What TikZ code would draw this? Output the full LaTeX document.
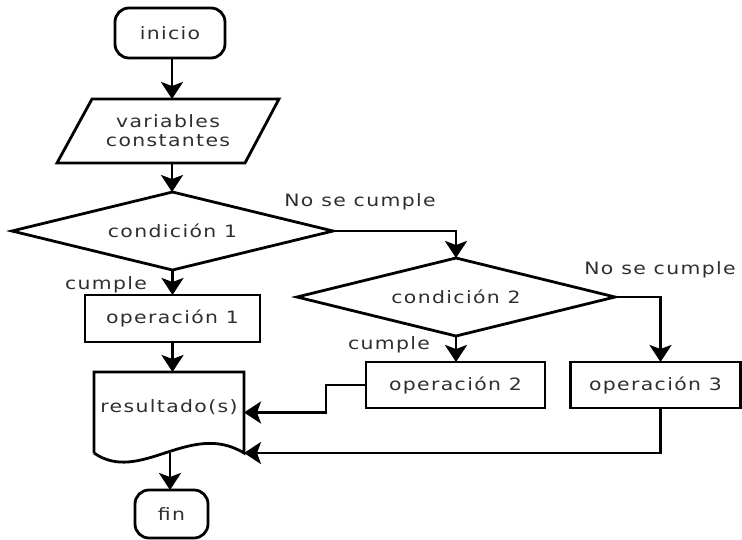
\documentclass[tikz,border=0pt]{standalone}
\usepackage{fontspec}
\setmainfont{DejaVu Sans}[FakeStretch=1.2, LetterSpace=8]
\usetikzlibrary{arrows.meta,calc}
\definecolor{txt}{HTML}{2E2E2E}
\begin{document}
\begin{tikzpicture}[x=1pt,y=-1pt,
  every node/.style={font=\fontsize{17}{19}\selectfont, text=txt},
  frame/.style={inner sep=0pt, outer sep=0pt},
  outline/.style={draw=black, line width=2.8pt},
  terminal/.style={frame, outline, rectangle, rounded corners=14pt},
  procbox/.style={frame, outline, rectangle, minimum height=46pt},
  decision/.style={frame, rectangle, minimum height=78pt},
  flow/.style={draw=black, line width=2.8pt,
    -{Stealth[length=17pt, width=22pt, inset=4pt]}},
  tag/.style={inner sep=0pt}
]
\useasboundingbox (0,0) rectangle (742,539);

% start / end terminals
\node[terminal, minimum width=110pt, minimum height=50pt] (start) at (170,33) {inicio};
\node[terminal, minimum width=73pt, minimum height=48pt] (stop) at (171.5,514) {fin};

% input parallelogram
\node[frame, minimum width=222pt, minimum height=64pt, align=center] (vars) at (168,131)
  {variables\\constantes};
\draw[outline, line join=miter] ($(vars.north west)+(35,0)$) -- (vars.north east)
  -- ($(vars.south east)+(-34,0)$) -- (vars.south west) -- cycle;

% decisions: the diamond outline joins the four side midpoints of the node box
\node[decision, minimum width=321pt] (d1) at (172.5,231) {condición 1};
\node[decision, minimum width=318pt] (d2) at (456,297) {condición 2};
\foreach \d in {d1,d2}
  \draw[outline] (\d.north) -- (\d.east) -- (\d.south) -- (\d.west) -- cycle;

% processes
\node[procbox, minimum width=175pt, minimum height=47pt] (op1) at (172.5,318.5) {operación 1};
\node[procbox, minimum width=179pt] (op2) at (455.5,385) {operación 2};
\node[procbox, minimum width=170pt] (op3) at (655.5,385) {operación 3};

% output document
\node[frame, minimum width=150pt, minimum height=81pt] (res) at (169,412.5)
  {\raisebox{12pt}{resultado(s)}};
\draw[outline] (res.south west) -- (res.north west) -- (res.north east) -- (res.south east)
  .. controls (190,420) and (140,485) .. (res.south west);

% branch labels
\node[tag] (no1) at (360,202) {No se cumple};
\node[tag] (no2) at (660,270) {No se cumple};
\node[tag] (si1) at (106,285) {cumple};
\node[tag] (si2) at (389,345) {cumple};

% connectors
\path[flow] ([xshift=2pt]start.south) -- ([xshift=2pt]start.south |- vars.north);
\path[flow] ([xshift=4pt]vars.south) -- ([xshift=4pt]vars.south |- d1.north);
\path[flow] (d1.south) -- (d1.south |- op1.north);
\path[flow] (d1.east) -| (d2.north);
\path[flow] (d2.south) -- (d2.south |- op2.north);
\path[flow] (d2.east) -| ([xshift=5pt]op3.north);
\path[flow] (op1.south) -- (op1.south |- res.north);
\path[flow] (op2.west) -- ++(-40,0) |- (res.east);
\path[flow] ([xshift=5pt]op3.south) |- (res.south east);
\path[flow] ([xshift=1pt]res.south) -- ([xshift=1pt]res.south |- stop.north);
\end{tikzpicture}
\end{document}
